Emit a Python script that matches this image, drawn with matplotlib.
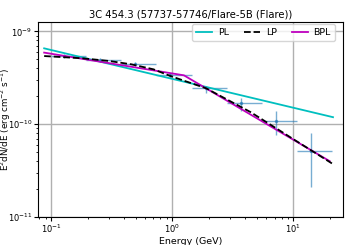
import numpy as np
import matplotlib
matplotlib.use("Agg")
from matplotlib import pyplot as plt

plt.rcParams['font.family'] = ['Liberation Sans Narrow', 'DejaVu Sans']
plt.rcParams['mathtext.fontset'] = 'custom'
plt.rcParams['mathtext.rm'] = 'Liberation Sans Narrow'
plt.rcParams['mathtext.it'] = 'Liberation Sans Narrow:italic'

# flux points (GeV, erg cm^-2 s^-1)
energy = [0.128, 0.252, 0.497, 0.96, 1.90, 3.68, 7.26, 14.05]
e_lo = [0.100, 0.195, 0.380, 0.741, 1.445, 2.818, 5.50, 10.7]
e_hi = [0.195, 0.380, 0.741, 1.445, 2.818, 5.50, 10.7, 20.9]
flux = [5.38e-10, 4.87e-10, 4.41e-10, 3.36e-10, 2.44e-10, 1.68e-10, 1.08e-10, 5.13e-11]
f_lo = [5.1e-10, 4.65e-10, 4.2e-10, 3.15e-10, 2.15e-10, 1.38e-10, 7.6e-11, 2.1e-11]
f_hi = [5.65e-10, 5.1e-10, 4.65e-10, 3.6e-10, 2.6e-10, 1.9e-10, 1.38e-10, 8.0e-11]

# model curves
pl_e = [0.0876, 21.3]
pl_f = [6.56e-10, 1.19e-10]
lp_e = [0.0876, 0.1795, 0.30, 0.461, 0.70, 0.981, 1.90, 4.44, 9.45, 21.3]
lp_f = [5.42e-10, 5.13e-10, 4.80e-10, 4.41e-10, 3.90e-10, 3.28e-10, 2.44e-10, 1.35e-10, 7.24e-11, 3.72e-11]
bpl_e = [0.0876, 1.25, 20.0]
bpl_f = [5.9e-10, 3.36e-10, 4.0e-11]

fig = plt.figure(figsize=(3.46, 2.45), dpi=100)
ax = fig.add_axes([0.11, 0.114, 0.881, 0.796])

xerr = [np.array(energy) - np.array(e_lo), np.array(e_hi) - np.array(energy)]
yerr = [np.array(flux) - np.array(f_lo), np.array(f_hi) - np.array(flux)]
ax.errorbar(energy, flux, xerr=xerr, yerr=yerr, fmt='.', color='C0', ms=3,
            elinewidth=1, alpha=0.6, zorder=2)

ax.plot(pl_e, pl_f, color='c', lw=1.3, label='PL', zorder=3)
ax.plot(lp_e, lp_f, color='k', ls='--', lw=1.3, label='LP', zorder=4)
ax.plot(bpl_e, bpl_f, color='m', lw=1.3, label='BPL', zorder=3)

ax.set_xscale('log')
ax.set_yscale('log')
ax.set_xlim(0.078, 25.7)
ax.set_ylim(1e-11, 10 ** -8.9)
ax.grid(True, which='major', color='#b0b0b0', lw=1)
ax.set_axisbelow(True)

ax.set_title('3C 454.3 (57737-57746/Flare-5B (Flare))', fontsize=7.2, pad=3)
ax.set_xlabel('Energy (GeV)', fontsize=6.8)
ax.set_ylabel('E$^2$dN/dE (erg cm$^{-2}$ s$^{-1}$)', fontsize=6.3)
ax.xaxis.set_label_coords(0.5, -0.103)
ax.yaxis.set_label_coords(-0.083, 0.5)
ax.tick_params(labelsize=6.0, pad=1.2, length=3)
ax.tick_params(which='minor', length=1.5)

ax.legend(loc='upper right', ncol=3, fontsize=6.8, handlelength=1.7,
          handletextpad=0.6, columnspacing=1.6, borderpad=0.45,
          framealpha=0.8, bbox_to_anchor=(0.99, 1.015))

fig.savefig('out.png', dpi=100)
